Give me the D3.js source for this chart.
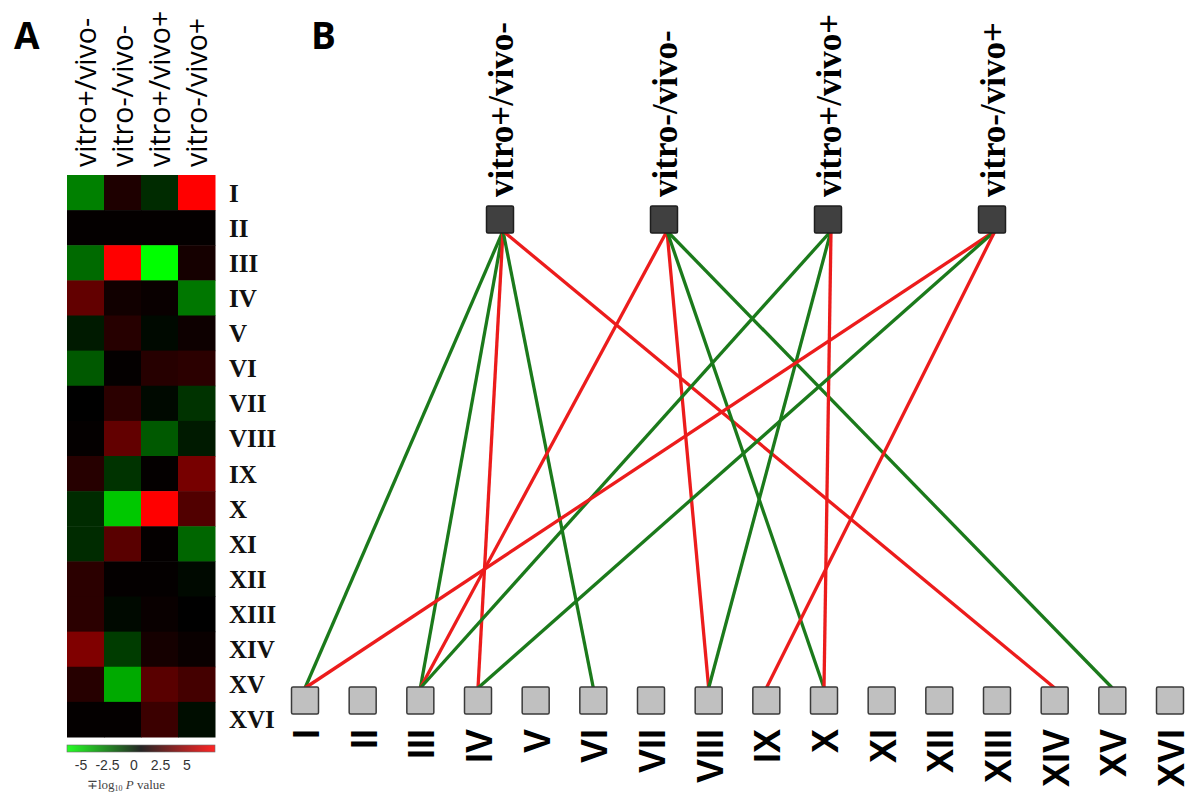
<!DOCTYPE html>
<html>
<head>
<meta charset="utf-8">
<script src="https://cdn.jsdelivr.net/npm/d3@7"></script>
<style>
  html, body { margin: 0; padding: 0; background: #ffffff; }
  svg { display: block; }
</style>
</head>
<body>
<svg id="chart" width="1200" height="803"></svg>
<script>
// ---------------- DATA ----------------
const groups = ["vitro+/vivo-", "vitro-/vivo-", "vitro+/vivo+", "vitro-/vivo+"];
const clusters = ["I","II","III","IV","V","VI","VII","VIII","IX","X","XI","XII","XIII","XIV","XV","XVI"];
// signed -log10 P values per group (one value per cluster)
const vitroPosVivoNeg = [-3.0, 0.1, -2.5, 2.3, -0.6, -2.1, 0.0, 0.1, 0.9, -1.0, -1.0, 1.0, 1.0, 3.0, 0.9, 0.1];
const vitroNegVivoNeg = [0.7, 0.1, 6.0, 0.4, 0.9, 0.1, 1.0, 2.3, -1.2, -4.7, 2.1, 0.1, -0.2, -1.4, -4.0, 0.1];
const vitroPosVivoPos = [-1.0, 0.1, -6.0, 0.2, -0.2, 0.9, -0.2, -2.1, 0.1, 6.0, 0.1, 0.1, 0.2, 0.5, 2.1, 1.4];
const vitroNegVivoPos = [6.0, 0.1, 0.5, -2.8, 0.3, 1.0, -1.2, -0.6, 2.8, 1.9, -2.4, -0.2, 0.0, 0.2, 1.6, -0.3];
const legendTicks = ["-5", "-2.5", "0", "2.5", "5"];
const legendTitle = "\u2213log";
// network links: [group, cluster, direction]
const links = [
  ["vitro+/vivo-", "I", "down"],
  ["vitro+/vivo-", "III", "down"],
  ["vitro+/vivo-", "IV", "up"],
  ["vitro+/vivo-", "VI", "down"],
  ["vitro+/vivo-", "XIV", "up"],
  ["vitro-/vivo-", "III", "up"],
  ["vitro-/vivo-", "VIII", "up"],
  ["vitro-/vivo-", "X", "down"],
  ["vitro-/vivo-", "XV", "down"],
  ["vitro+/vivo+", "III", "down"],
  ["vitro+/vivo+", "VIII", "down"],
  ["vitro+/vivo+", "X", "up"],
  ["vitro-/vivo+", "I", "up"],
  ["vitro-/vivo+", "IV", "down"],
  ["vitro-/vivo+", "IX", "up"]
];

// ---------------- CHART ----------------
const svg = d3.select("#chart");
const series = [vitroPosVivoNeg, vitroNegVivoNeg, vitroPosVivoPos, vitroNegVivoPos];
const cells = [];
groups.forEach((g, gi) => clusters.forEach((c, ci) => cells.push({g, c, v: series[gi][ci]})));

const color = d3.scaleLinear().domain([-6, 0, 6]).range(["#00ff00", "#000000", "#ff0000"]).clamp(true);

// Panel labels
svg.append("text").attr("x", 14).attr("y", 49).text("A")
  .attr("font-family", "Open Sans, Liberation Sans, sans-serif").attr("font-weight", "bold").attr("font-size", 37).attr("fill", "#000");
svg.append("text").attr("x", 311).attr("y", 49).text("B")
  .attr("font-family", "Open Sans, Liberation Sans, sans-serif").attr("font-weight", "bold").attr("font-size", 37).attr("fill", "#000");

// ---- Panel A heat map ----
const hx = d3.scaleBand().domain(groups).range([67, 215]);
const hy = d3.scaleBand().domain(clusters).range([175, 737]);

svg.append("g").selectAll("rect").data(cells).join("rect")
  .attr("x", d => hx(d.g)).attr("y", d => hy(d.c))
  .attr("width", hx.bandwidth() + 0.5).attr("height", hy.bandwidth() + 0.5)
  .attr("fill", d => color(d.v));

// column headers
svg.append("g").selectAll("text").data(groups).join("text")
  .attr("transform", d => `translate(${hx(d) + hx.bandwidth() / 2 + 10},167) rotate(-90)`)
  .attr("text-anchor", "start")
  .attr("font-family", "Open Sans, sans-serif").attr("font-size", 28.5).attr("fill", "#000")
  .text(d => d);

// row labels
svg.append("g").selectAll("text").data(clusters).join("text")
  .attr("x", 229).attr("y", d => hy(d) + hy.bandwidth() / 2 + 9)
  .attr("font-family", "Liberation Serif, Times New Roman, serif").attr("font-weight", "bold")
  .attr("font-size", 25).attr("fill", "#111")
  .text(d => d);

// legend
const defs = svg.append("defs");
const grad = defs.append("linearGradient").attr("id", "lg").attr("x1", "0%").attr("x2", "100%");
d3.range(0, 1.0001, 0.1).forEach(t => {
  grad.append("stop").attr("offset", (t * 100) + "%").attr("stop-color", color(-6 + 12 * t));
});
svg.append("rect").attr("x", 67).attr("y", 745).attr("width", 148).attr("height", 7)
  .attr("fill", "url(#lg)").attr("stroke", "#555").attr("stroke-width", 0.6).attr("opacity", 0.85);
const lx = d3.scalePoint().domain(legendTicks).range([81, 187]);
svg.append("g").selectAll("text").data(legendTicks).join("text")
  .attr("x", d => lx(d)).attr("y", 770).attr("text-anchor", "middle")
  .attr("font-family", "Liberation Sans, Arial, sans-serif").attr("font-size", 14).attr("fill", "#333")
  .text(d => d);
const lt = svg.append("text").attr("x", 126).attr("y", 789).attr("text-anchor", "middle")
  .attr("font-family", "Liberation Serif, Times New Roman, serif").attr("font-size", 13).attr("fill", "#444");
lt.append("tspan").text(legendTitle);
lt.append("tspan").attr("font-size", 8).attr("dy", 2).text("10");
lt.append("tspan").attr("dy", -2).text(" ");
lt.append("tspan").attr("font-style", "italic").text("P");
lt.append("tspan").text(" value");

// ---- Panel B network ----
const tx = d3.scalePoint().domain(groups).range([500, 992]);
const bx = d3.scalePoint().domain(clusters).range([305, 1170]);
const topY = 206, botY = 687, box = 27;

svg.append("g").selectAll("line").data(links).join("line")
  .attr("x1", d => tx(d[0]) + 3).attr("y1", topY + box - 2)
  .attr("x2", d => bx(d[1])).attr("y2", botY + 1)
  .attr("stroke", d => d[2] === "up" ? "#ec1c1c" : "#1b7a1b")
  .attr("stroke-width", 3.3);

svg.append("g").selectAll("rect").data(groups).join("rect")
  .attr("x", d => tx(d) - box / 2).attr("y", topY).attr("width", box).attr("height", box)
  .attr("rx", 1.5).attr("fill", "#404040").attr("stroke", "#1e1e1e").attr("stroke-width", 1.5);

svg.append("g").selectAll("text").data(groups).join("text")
  .attr("transform", d => `translate(${tx(d) + 13},197) rotate(-90)`)
  .attr("text-anchor", "start")
  .attr("font-family", "Liberation Serif, Times New Roman, serif").attr("font-weight", "bold")
  .attr("font-size", 35).attr("fill", "#000")
  .text(d => d);

svg.append("g").selectAll("rect").data(clusters).join("rect")
  .attr("x", d => bx(d) - box / 2).attr("y", botY).attr("width", box).attr("height", box)
  .attr("rx", 1.5).attr("fill", "#c0c0c0").attr("stroke", "#3a3a3a").attr("stroke-width", 1.5);

svg.append("g").selectAll("text").data(clusters).join("text")
  .attr("transform", d => `translate(${bx(d) + 14},729) rotate(-90)`)
  .attr("text-anchor", "end")
  .attr("font-family", "Liberation Sans, Arial, sans-serif").attr("font-weight", "bold")
  .attr("font-size", 36).attr("fill", "#000")
  .text(d => d);
</script>
</body>
</html>
